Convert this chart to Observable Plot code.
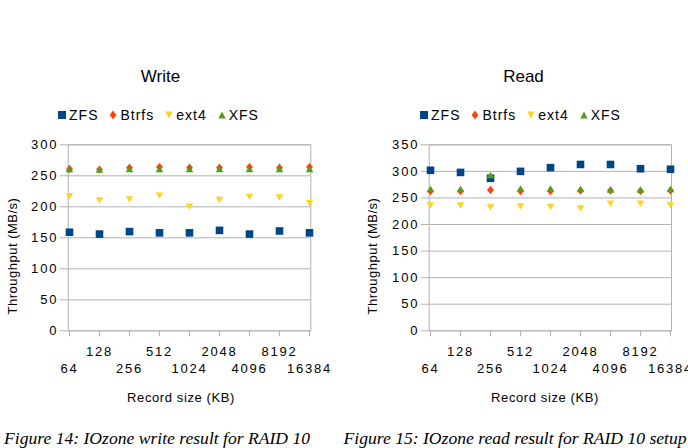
<!DOCTYPE html>
<html><head><meta charset="utf-8">
<script src="https://cdn.jsdelivr.net/npm/d3@7"></script>
<script src="https://cdn.jsdelivr.net/npm/@observablehq/plot@0.6"></script>
<style>
html,body{margin:0;padding:0;background:#fff;}
body{width:688px;height:448px;overflow:hidden;position:relative;font-family:"Liberation Sans",Arial,sans-serif;color:#000;}
.abs{position:absolute;white-space:nowrap;line-height:1;}
.title{font-size:17px;transform:translate(-50%,-50%);}
.legend{font-size:14px;letter-spacing:1px;transform:translate(-50%,-50%);display:flex;align-items:center;}
.legend .item{display:flex;align-items:center;margin-right:10px;}
.legend .item:last-child{margin-right:0;}
.legend svg{margin-right:2px;}
.xlabel{font-size:13px;letter-spacing:0.6px;transform:translate(-50%,-50%);}
.ylabel{font-size:13px;letter-spacing:0.5px;transform:translate(-50%,-50%) rotate(-90deg);}
.caption{font-family:"Liberation Serif","Times New Roman",serif;font-style:italic;font-size:17.6px;}
.chart{position:absolute;top:130px;}
</style></head><body>
<script>
// ---- data ----
const recordSizes = ["64","128","256","512","1024","2048","4096","8192","16384"];
const seriesNames = ["ZFS","Btrfs","ext4","XFS"];
const seriesColors = ["#004586","#ff420e","#ffd320","#579d1c"];

const writeZFS   = [159, 156, 160, 158, 158, 162, 156, 161, 158];
const writeBtrfs = [261, 260, 263, 264, 263, 263, 264, 263, 264];
const writeExt4  = [217, 210, 212, 218, 200, 211, 216, 215, 206];
const writeXFS   = [261, 260, 261, 261, 261, 261, 261, 261, 261];

const readZFS   = [302, 298, 287, 300, 307, 313, 313, 305, 304];
const readBtrfs = [263, 263, 265, 263, 263, 264, 264, 263, 264];
const readExt4  = [236, 236, 232, 234, 233, 230, 239, 239, 236];
const readXFS   = [267, 267, 293, 268, 268, 267, 266, 266, 267];

const writeTicks = [0, 50, 100, 150, 200, 250, 300];
const readTicks  = [0, 50, 100, 150, 200, 250, 300, 350];

// ---- symbols ----
const symSquare = {draw(c, s){const r = Math.sqrt(s/Math.PI); c.rect(-r, -r, 2*r, 2*r);}};
const symDiamond = {draw(c, s){const r = Math.sqrt(s/Math.PI); c.moveTo(0, -r*1.1); c.lineTo(r*0.9, 0); c.lineTo(0, r*1.1); c.lineTo(-r*0.9, 0); c.closePath();}};
const symTriDown = {draw(c, s){const r = Math.sqrt(s/Math.PI); c.moveTo(-r, -r*0.85); c.lineTo(r, -r*0.85); c.lineTo(0, r*0.85); c.closePath();}};
const symTriUp = {draw(c, s){const r = Math.sqrt(s/Math.PI); c.moveTo(-r, r*0.85); c.lineTo(r, r*0.85); c.lineTo(0, -r*0.85); c.closePath();}};
const seriesSymbols = [symSquare, symDiamond, symTriDown, symTriUp];
const legendShapes = [
  '<rect x="1" y="1" width="8" height="8"/>',
  '<path d="M5 0.5 L8.3 5 L5 9.5 L1.7 5 Z"/>',
  '<path d="M1.3 1.5 L8.7 1.5 L5 8.5 Z"/>',
  '<path d="M1.3 8.5 L8.7 8.5 L5 1.5 Z"/>'
];

function addText(cls, text, x, y){
  const d = document.createElement("div");
  d.className = "abs " + cls;
  d.textContent = text;
  d.style.left = x + "px"; d.style.top = y + "px";
  document.body.appendChild(d);
  return d;
}

function addLegend(cx, cy){
  const d = document.createElement("div");
  d.className = "abs legend";
  d.style.left = cx + "px"; d.style.top = cy + "px";
  seriesNames.forEach((name, k) => {
    const it = document.createElement("span");
    it.className = "item";
    it.innerHTML = `<svg width="10" height="10" viewBox="0 0 10 10" fill="${seriesColors[k]}">${legendShapes[k]}</svg><span>${name}</span>`;
    d.appendChild(it);
  });
  document.body.appendChild(d);
}

function panel(cfg){
  const chart = Plot.plot({
    width: 344, height: 280,
    marginLeft: cfg.ml, marginRight: cfg.mr, marginTop: 14.3, marginBottom: 79.7,
    style: "font-family:'Liberation Sans',Arial,sans-serif;font-size:13px;letter-spacing:1.8px;color:#000;background:transparent;overflow:visible;",
    x: {type: "point", domain: recordSizes, padding: 0},
    y: {domain: [0, cfg.yMax]},
    marks: [
      Plot.gridY(cfg.ticks, {stroke: "#b3b3b3", strokeOpacity: 1}),
      Plot.frame({stroke: "#b3b3b3"}),
      Plot.axisY(cfg.ticks, {tickSize: 8, tickPadding: 2, stroke: "#b3b3b3", label: null}),
      Plot.axisX(recordSizes, {tickSize: 6, stroke: "#b3b3b3", tickFormat: () => "", label: null}),
      Plot.axisX(recordSizes.filter((d, i) => i % 2 === 1), {tickSize: 0, tickPadding: 15.5, label: null}),
      Plot.axisX(recordSizes.filter((d, i) => i % 2 === 0), {tickSize: 0, tickPadding: 33, label: null}),
      ...cfg.series.map((vals, k) => Plot.dot(vals, {
        x: recordSizes, y: d => d, r: 3.8,
        symbol: seriesSymbols[k], fill: seriesColors[k], stroke: "none"
      }))
    ]
  });
  const wrap = document.createElement("div");
  wrap.className = "chart";
  wrap.style.left = cfg.left + "px";
  wrap.appendChild(chart);
  document.body.appendChild(wrap);

  addText("title", cfg.title, cfg.titleX, 76);
  addLegend(cfg.legendX, 115);
  addText("xlabel", "Record size (KB)", cfg.xLabelX, 397);
  addText("ylabel", "Throughput (MB/s)", cfg.yLabelX, 256);
  addText("caption", cfg.caption, cfg.captionX, 430);
}

panel({
  title: "Write", series: [writeZFS, writeBtrfs, writeExt4, writeXFS],
  yMax: 300, ticks: writeTicks, left: 0, ml: 67.7, mr: 33.7,
  titleX: 160.5, legendX: 158, xLabelX: 181, yLabelX: 12,
  caption: "Figure 14: IOzone write result for RAID 10", captionX: 4
});
panel({
  title: "Read", series: [readZFS, readBtrfs, readExt4, readXFS],
  yMax: 350, ticks: readTicks, left: 344, ml: 84.7, mr: 17,
  titleX: 523.5, legendX: 520, xLabelX: 545, yLabelX: 372,
  caption: "Figure 15: IOzone read result for RAID 10 setup", captionX: 343.5
});
</script>
</body></html>
